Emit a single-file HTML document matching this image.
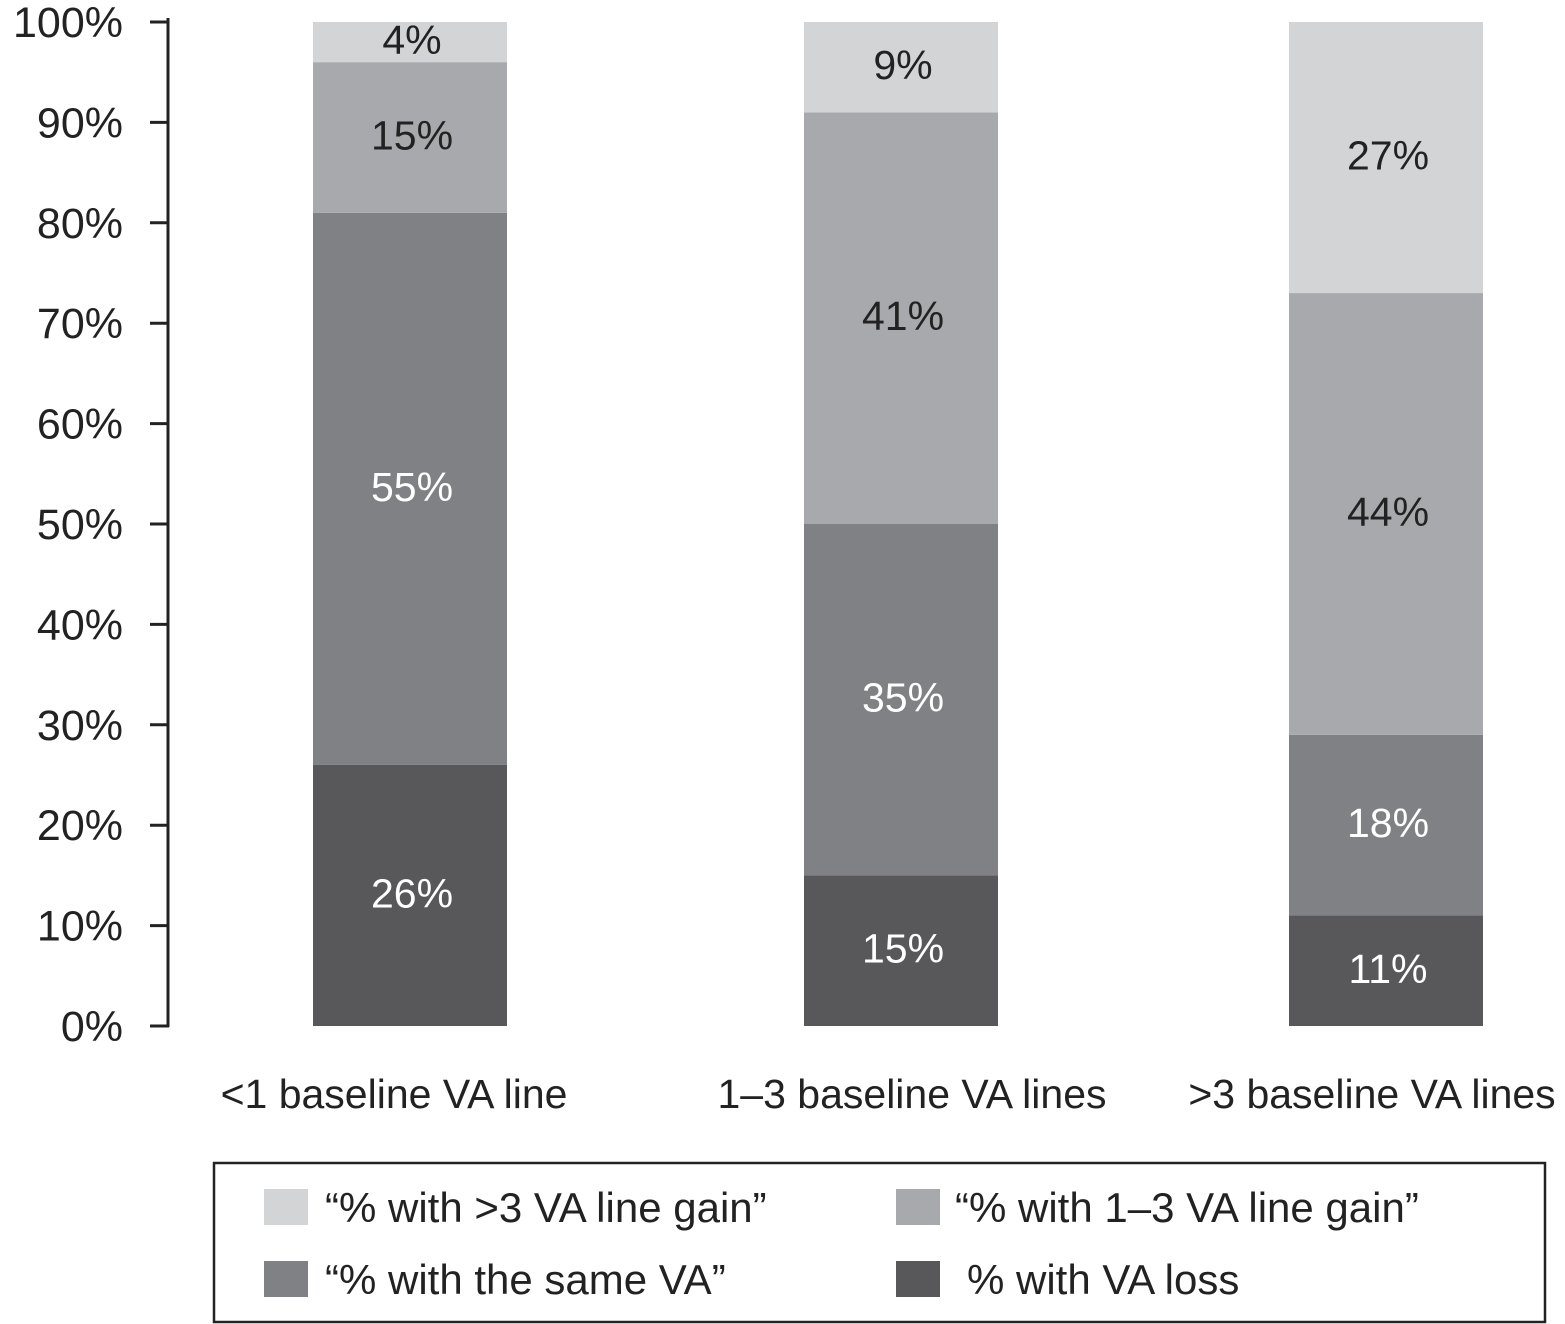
<!DOCTYPE html>
<html><head><meta charset="utf-8"><style>
html,body{margin:0;padding:0;background:#fff;}
svg{display:block;font-family:"Liberation Sans",sans-serif;}
</style></head><body>
<svg id="chart" width="1565" height="1324" viewBox="0 0 1565 1324">
<g id="axis"></g>
<g id="bars"></g>
<g id="cats"></g>
<g>
<rect x="214" y="1163" width="1331" height="159" fill="none" stroke="#222" stroke-width="2.5"/>
<g><rect x="264" y="1189" width="44" height="36" fill="#d3d4d6"/><text x="325" y="1222" font-size="42" fill="#222">“% with &gt;3 VA line gain”</text></g>
<g><rect x="896" y="1189" width="44" height="36" fill="#a8a9ac"/><text x="955" y="1222" font-size="42" fill="#222">“% with 1–3 VA line gain”</text></g>
<g><rect x="264" y="1261" width="44" height="36" fill="#808184"/><text x="325" y="1294" font-size="42" fill="#222">“% with the same VA”</text></g>
<g><rect x="896" y="1261" width="44" height="36" fill="#58585a"/><text x="967" y="1294" font-size="42" fill="#222">% with VA loss</text></g>
</g>
</svg>
<script>
const categories = ["<1 baseline VA line", "1–3 baseline VA lines", ">3 baseline VA lines"];
const lossValues = [26, 15, 11];
const sameValues = [55, 35, 18];
const gain13Values = [15, 41, 44];
const gain3Values = [4, 9, 27];
const yTicks = [0,10,20,30,40,50,60,70,80,90,100];

const NS = "http://www.w3.org/2000/svg";
const y0 = 1026, y100 = 22;
const yScale = v => y0 - (y0 - y100) * v / 100;
const barLeft = [313, 804, 1289];
const labelShift = [-16, 11, -14];
const barW = 194;
const xScale = i => barLeft[i];
function mk(tag, attrs, parent){const e=document.createElementNS(NS,tag);for(const k in attrs)e.setAttribute(k,attrs[k]);parent.appendChild(e);return e;}

const axis = document.getElementById('axis');
const line = mk('line',{x1:168,x2:168,y1:18,y2:1027,stroke:'#222','stroke-width':3},axis);


yTicks.forEach(t=>{
  const y=yScale(t);
  const tk=mk('line',{x1:150,x2:169,y1:y,y2:y,stroke:'#222','stroke-width':3},axis);
  
  
  const tx=mk('text',{x:123,y:y+15,'font-size':43,'text-anchor':'end',fill:'#222'},axis);
  tx.textContent=t+'%';
  
  
});

const series=[
  {vals:lossValues,color:'#58585a',txt:'#fff',name:'loss'},
  {vals:sameValues,color:'#808184',txt:'#fff',name:'same'},
  {vals:gain13Values,color:'#a8a9ac',txt:'#222',name:'gain-1-3'},
  {vals:gain3Values,color:'#d3d4d6',txt:'#222',name:'gain-gt3'}
];
const bars=document.getElementById('bars');
categories.forEach((c,i)=>{
  let cum=0;
  series.forEach(s=>{
    const v=s.vals[i];
    const yt=yScale(cum+v), yb=yScale(cum);
    const r=mk('rect',{x:xScale(i),y:yt,width:barW,height:yb-yt,fill:s.color},bars);
    
    
    const t=mk('text',{x:xScale(i)+barW/2+2,y:(yt+yb)/2+12,'font-size':41,'text-anchor':'middle',fill:s.txt},bars);
    t.textContent=v+'%';
    
    
    cum+=v;
  });
  const ct=mk('text',{x:xScale(i)+barW/2+labelShift[i],y:1108,'font-size':41,'text-anchor':'middle',fill:'#222'},document.getElementById('cats'));
  ct.textContent=c;
  
  
});
</script>
</body></html>
